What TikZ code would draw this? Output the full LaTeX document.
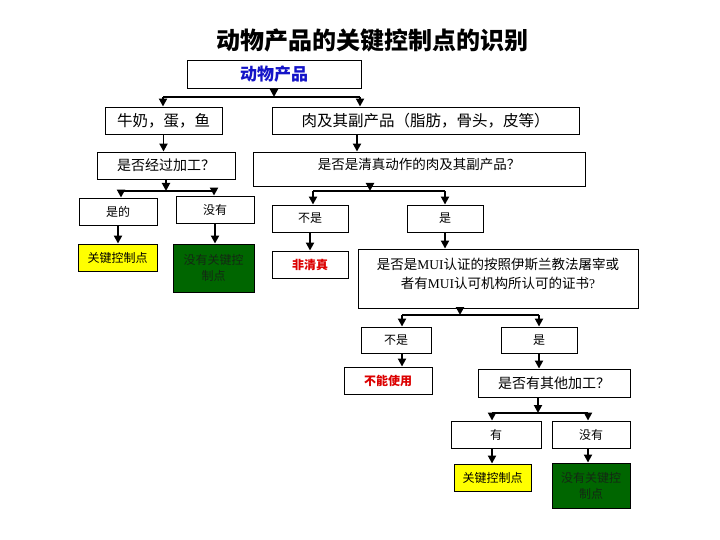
\documentclass[tikz,border=0pt]{standalone}
\usepackage{fontspec}
\setmainfont{Noto Sans CJK SC}
\newfontfamily\lser{Liberation Serif}
\usetikzlibrary{arrows.meta}
\definecolor{ccpyellow}{RGB}{255,255,0}
\definecolor{ccpgreen}{RGB}{0,102,0}
\definecolor{redtxt}{RGB}{220,0,0}
\definecolor{bluetxt}{RGB}{20,20,200}
\definecolor{grntxt}{RGB}{20,40,20}
\tikzset{
  box/.style={draw=black, line width=0.9pt, fill=white, inner sep=0pt, align=center, font=\fontsize{12}{16}\selectfont},
  boxmid/.style={box, font=\fontsize{14}{18}\selectfont},
  boxbig/.style={box, font=\fontsize{15.5}{19}\selectfont},
  yelbox/.style={box, fill=ccpyellow},
  grnbox/.style={box, fill=ccpgreen, text=grntxt},
  redlbl/.style={font=\fontsize{12}{16}\selectfont\bfseries, text=redtxt},
  conn/.style={line width=1.9pt, draw=black},
  arr/.style={conn, -{Triangle[length=8pt,width=8pt]}},
  txt/.style={inner sep=0pt, align=center, font=\fontsize{13.5}{19}\selectfont}
}
\newcommand{\bx}[7]{\node[#6, minimum width=#4pt, minimum height=#5pt] (#1) at (#2,#3) {#7};}
\begin{document}
\begin{tikzpicture}[x=1pt,y=-1pt]
\useasboundingbox (0,0) rectangle (720,540);
\fill[white] (0,0) rectangle (720,540);
\node[inner sep=0pt, font=\fontsize{24}{28}\selectfont\bfseries] (title) at (372,40) {动物产品的关键控制点的识别};
\bx{top}{274}{74}{174}{28}{box, font=\fontsize{17}{20}\selectfont\bfseries, text=bluetxt}{动物产品}
\bx{milk}{163.5}{120.5}{117}{27}{boxbig}{牛奶，蛋，鱼}
\bx{meat}{425.5}{120.5}{307}{27}{boxbig}{肉及其副产品（脂肪，骨头，皮等）}
\bx{proc}{166}{165.5}{138}{27}{boxmid}{是否经过加工？}
\bx{halal}{419}{169}{332}{34}{box}{}
\node[txt] (halaltxt) at (419,164) {是否是清真动作的肉及其副产品？};
\bx{yes1}{118}{211.5}{78}{27}{box}{是的}
\bx{no1}{215}{209.5}{78}{27}{box}{没有}
\bx{ccp1}{117.5}{257.5}{79}{27}{yelbox}{关键控制点}
\bx{nccp1}{213.5}{268}{81}{48}{grnbox}{没有关键控\\制点}
\bx{notH}{310}{218.5}{76}{27}{box}{不是}
\bx{isH}{445}{218.5}{76}{27}{box}{是}
\bx{nonhalal}{310}{264.5}{76}{27}{box}{}
\node[redlbl] (nonhalaltxt) at (310,264.5) {非清真};
\bx{mui}{498}{278.5}{280}{59}{box}{}
\node[txt] (muitxt) at (498,274) {是否是{\lser MUI}认证的按照伊斯兰教法屠宰或\\者有{\lser MUI}认可机构所认可的证书{\lser ?}};
\bx{no2}{396}{340}{70}{26}{box}{不是}
\bx{yes2}{539}{340}{76}{26}{box}{是}
\bx{cannot}{388}{380.5}{88}{27}{box}{}
\node[redlbl] (cannottxt) at (388,380.5) {不能使用};
\bx{other}{554}{383}{152}{28}{boxmid}{是否有其他加工？}
\bx{have}{496}{434.5}{90}{27}{box}{有}
\bx{no3}{591}{434.5}{78}{27}{box}{没有}
\bx{ccp2}{492.5}{477.5}{77}{27}{yelbox}{关键控制点}
\bx{nccp2}{591}{485.5}{78}{45}{grnbox}{没有关键控\\制点}
% split 1
\coordinate (j1) at (274,97);
\coordinate (j1l) at (163,97);
\coordinate (j1r) at (360,97);
\draw[arr] (top.south) -- (j1);
\draw[conn] (j1l) -- (j1r);
\draw[arr] (j1l) -- (milk.north -| j1l);
\draw[arr] (j1r) -- (meat.north -| j1r);
\draw[arr] (milk.south) -- (milk.south |- proc.north);
\coordinate (mt) at (357,134);
\draw[arr] (meat.south -| mt) -- (halal.north -| mt);
% split 2
\coordinate (j2) at (166,191);
\coordinate (j2l) at (121,191);
\coordinate (j2r) at (214,191);
\draw[arr] (proc.south) -- (j2);
\draw[conn] (j2l) -- (j2r);
\draw[arr] (j2l) -- (yes1.north -| j2l);
\draw[arr] (j2r) -- (no1.north -| j2r);
\draw[arr] (yes1.south) -- (yes1.south |- ccp1.north);
\draw[arr] (no1.south) -- (no1.south |- nccp1.north);
% split 3
\coordinate (j3) at (370,191);
\coordinate (j3l) at (313,191);
\coordinate (j3r) at (445,191);
\draw[arr] (halal.south -| j3) -- (j3);
\draw[conn] (j3l) -- (j3r);
\draw[arr] (j3l) -- (notH.north -| j3l);
\draw[arr] (j3r) -- (isH.north -| j3r);
\draw[arr] (notH.south) -- (notH.south |- nonhalal.north);
\draw[arr] (isH.south) -- (isH.south |- mui.north);
% split 4
\coordinate (j4) at (460,315);
\coordinate (j4l) at (402,315);
\coordinate (j4r) at (539,315);
\draw[arr] (mui.south -| j4) -- (j4);
\draw[conn] (j4l) -- (j4r);
\draw[arr] (j4l) -- (no2.north -| j4l);
\draw[arr] (j4r) -- (yes2.north -| j4r);
\draw[arr] (no2.south -| j4l) -- (cannot.north -| j4l);
\draw[arr] (yes2.south) -- (yes2.south |- other.north);
% split 5
\coordinate (j5) at (538,413);
\coordinate (j5l) at (492,413);
\coordinate (j5r) at (588,413);
\draw[arr] (other.south -| j5) -- (j5);
\draw[conn] (j5l) -- (j5r);
\draw[arr] (j5l) -- (have.north -| j5l);
\draw[arr] (j5r) -- (no3.north -| j5r);
\draw[arr] (have.south -| j5l) -- (ccp2.north -| j5l);
\draw[arr] (no3.south -| j5r) -- (nccp2.north -| j5r);
\end{tikzpicture}
\end{document}
